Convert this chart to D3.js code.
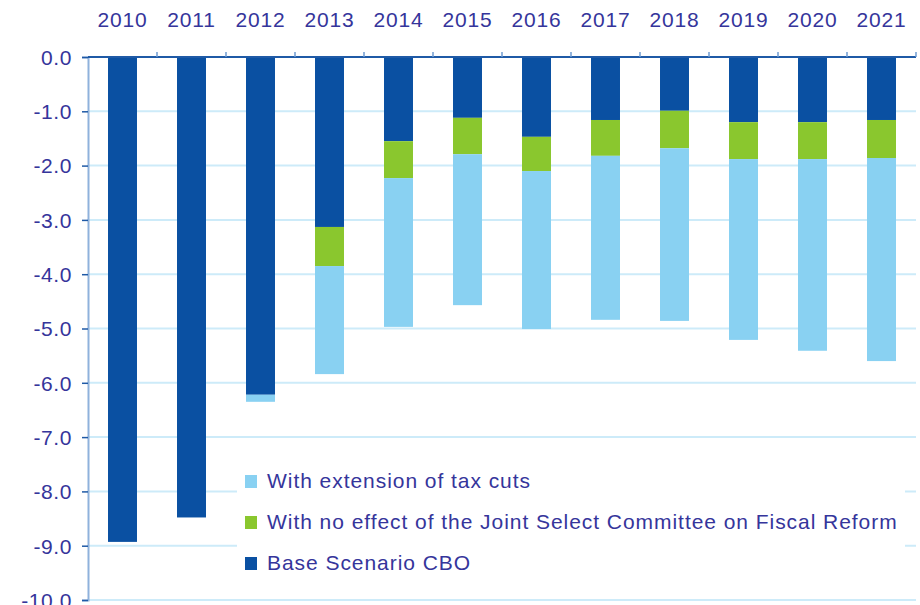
<!DOCTYPE html>
<html>
<head>
<meta charset="utf-8">
<script src="https://cdn.jsdelivr.net/npm/d3@7"></script>
<style>
  body { margin: 0; background: #fff; }
  svg { display: block; font-family: "Liberation Sans", Arial, sans-serif; }
</style>
</head>
<body>
<svg id="chart" width="920" height="605"></svg>
<script>
const years = ["2010","2011","2012","2013","2014","2015","2016","2017","2018","2019","2020","2021"];
const baseScenario = [-8.93, -8.48, -6.22, -3.13, -1.55, -1.12, -1.47, -1.16, -0.99, -1.20, -1.20, -1.16];
const noJointCommittee = [0, 0, 0, -0.72, -0.68, -0.67, -0.63, -0.66, -0.69, -0.68, -0.68, -0.70];
const taxCutsExtension = [0, 0, -0.13, -1.99, -2.74, -2.78, -2.91, -3.02, -3.18, -3.33, -3.53, -3.74];
const yTicks = [0, -1, -2, -3, -4, -5, -6, -7, -8, -9, -10];
const seriesNames = ["Base Scenario CBO", "With no effect of the Joint Select Committee on Fiscal Reform", "With extension of tax cuts"];
const seriesColors = ["#0A50A2", "#8AC72E", "#89D1F2"];
const legendOrder = [2, 1, 0];

(function () {
const svg = d3.select("#chart");
const mLeft = 88, mRight = 916, mTop = 57, mBottom = 600;
const textColor = "#35359B";

const x = d3.scaleBand().domain(years).range([mLeft, mRight]).paddingInner(0.58).paddingOuter(0.29);
const y = d3.scaleLinear().domain([0, -10]).range([mTop, mBottom]);

// gridlines
svg.append("g").selectAll("line").data(yTicks.filter(d => d !== 0)).join("line")
  .attr("x1", mLeft).attr("x2", mRight)
  .attr("y1", d => y(d)).attr("y2", d => y(d))
  .attr("stroke", "#CDEBF9").attr("stroke-width", 2);

// stacked bars
const rows = years.map((yr, i) => ({year: yr, s0: baseScenario[i], s1: noJointCommittee[i], s2: taxCutsExtension[i]}));
const stack = d3.stack().keys(["s0","s1","s2"]).offset(d3.stackOffsetDiverging);
const stacked = stack(rows);
svg.append("g").selectAll("g").data(stacked).join("g")
  .attr("fill", (d, i) => seriesColors[i])
  .selectAll("rect").data(d => d).join("rect")
  .attr("x", d => x(d.data.year))
  .attr("width", x.bandwidth())
  .attr("y", d => y(Math.max(d[0], d[1])))
  .attr("height", d => Math.abs(y(d[1]) - y(d[0])));

// legend box
const lg = svg.append("g");
lg.append("rect").attr("x", 237).attr("y", 452).attr("width", 668).attr("height", 140).attr("fill", "#fff");
legendOrder.forEach((si, k) => {
  const cy = 481 + k * 41;
  lg.append("rect").attr("x", 245).attr("y", cy - 6).attr("width", 12).attr("height", 13).attr("fill", seriesColors[si]);
  lg.append("text").attr("x", 267).attr("y", cy + 7)
    .attr("font-size", 21).attr("letter-spacing", 0.95).attr("fill", textColor)
    .text(seriesNames[si]);
});

// y axis
const fmt = d => d3.format(".1f")(d).replace("\u2212", "-");
const yAxis = d3.axisLeft(y).tickValues(yTicks).tickFormat(fmt).tickSize(6).tickPadding(10);
const ya = svg.append("g").attr("transform", `translate(${mLeft},0)`).call(yAxis);
ya.select(".domain").attr("stroke", "#8FB2DC").attr("stroke-width", 2);
ya.selectAll(".tick line").attr("stroke", "#1F5AA6").attr("stroke-width", 1.5);
ya.selectAll(".tick text").attr("fill", textColor).attr("font-size", 21).attr("letter-spacing", 0.6)
  .attr("font-family", "'Liberation Sans', Arial, sans-serif").attr("dy", "0.35em");

// top x axis (category boundaries)
const xa = svg.append("g");
xa.append("line").attr("x1", mLeft).attr("x2", mRight).attr("y1", y(0)).attr("y2", y(0))
  .attr("stroke", "#1F5AA6").attr("stroke-width", 2);
xa.selectAll("line.tk").data(years.map((d, i) => i + 1)).join("line").attr("class", "tk")
  .attr("x1", i => mLeft + i * x.step()).attr("x2", i => mLeft + i * x.step())
  .attr("y1", y(0)).attr("y2", y(0) - 5)
  .attr("stroke", "#6F9BD0").attr("stroke-width", 1.5);
xa.selectAll("text").data(years).join("text")
  .attr("x", d => x(d) + x.bandwidth() / 2).attr("y", 27)
  .attr("text-anchor", "middle").attr("font-size", 21).attr("letter-spacing", 0.8)
  .attr("fill", textColor).text(d => d);
})();
</script>
</body>
</html>
